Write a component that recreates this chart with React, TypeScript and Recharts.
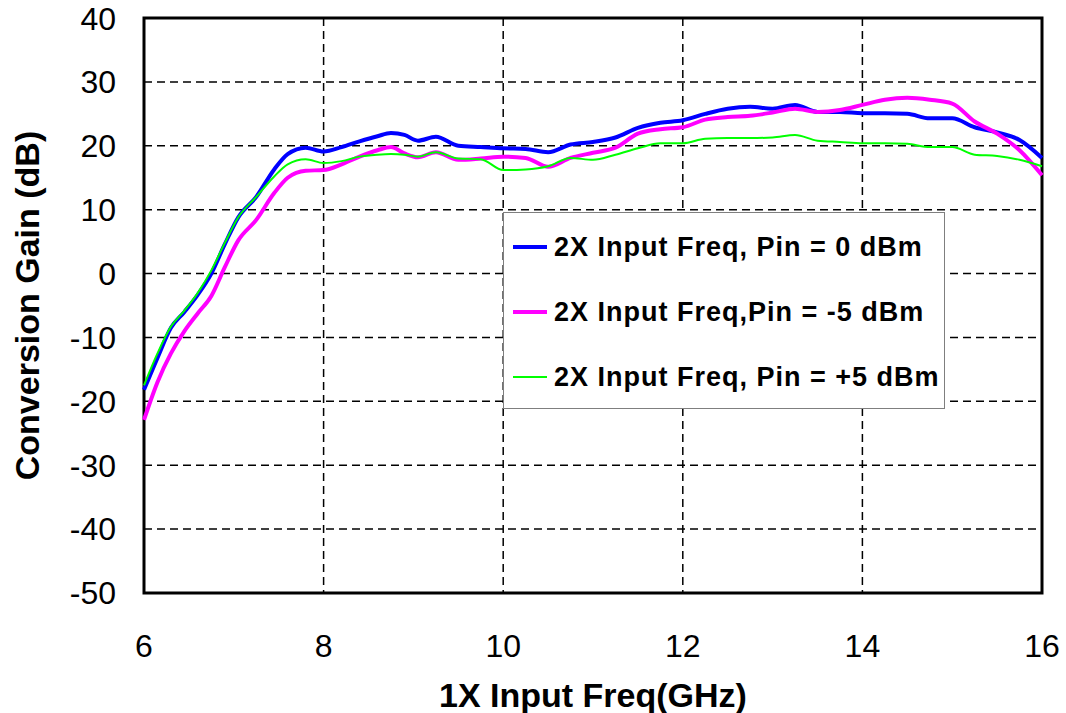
import React from 'react';
import {
  LineChart,
  Line,
  XAxis,
  YAxis,
  CartesianGrid,
  ReferenceArea,
  Legend,
} from 'recharts';

// ---------- data ----------
const FREQ = [
  6.0, 6.15, 6.3, 6.45, 6.6, 6.75, 6.9, 7.05, 7.25, 7.45, 7.6, 7.8, 8.0, 8.2, 8.4, 8.6, 8.75, 8.9,
  9.05, 9.25, 9.5, 9.75, 10.0, 10.25, 10.5, 10.75, 11.0, 11.25, 11.5, 11.75, 12.0, 12.25, 12.5,
  12.75, 13.0, 13.25, 13.5, 13.75, 14.0, 14.25, 14.5, 14.75, 15.0, 15.25, 15.5, 15.75, 16.0,
];

const GAIN_PIN_0 = [
  -18.2, -13.2, -8.5, -6.0, -3.3, 0.0, 4.6, 8.8, 12.0, 16.3, 18.7, 19.7, 19.1, 19.8, 20.7, 21.5,
  22.0, 21.7, 20.8, 21.4, 20.0, 19.8, 19.6, 19.5, 19.0, 20.2, 20.6, 21.3, 22.8, 23.6, 24.0, 25.0,
  25.8, 26.1, 25.8, 26.4, 25.3, 25.3, 25.1, 25.1, 25.0, 24.3, 24.3, 22.9, 22.1, 20.9, 18.1,
];

const GAIN_PIN_M5 = [
  -22.9, -17.0, -12.5, -9.0, -6.2, -3.5, 1.0, 5.2, 8.4, 12.6, 15.0, 16.1, 16.2, 17.1, 18.3, 19.3,
  19.8, 18.8, 18.2, 19.0, 17.8, 18.0, 18.3, 18.1, 16.7, 18.1, 18.9, 19.7, 21.9, 22.6, 22.9, 24.1,
  24.5, 24.7, 25.2, 25.8, 25.3, 25.6, 26.4, 27.2, 27.5, 27.2, 26.6, 23.8, 21.9, 19.3, 15.4,
];

const GAIN_PIN_P5 = [
  -17.5, -12.5, -8.3, -5.8, -3.0, 0.5, 4.8, 8.8, 12.0, 15.2, 17.1, 17.9, 17.3, 17.6, 18.3, 18.6,
  18.7, 18.6, 18.3, 19.0, 18.0, 17.9, 16.2, 16.3, 16.8, 18.1, 17.8, 18.6, 19.6, 20.4, 20.4, 21.1,
  21.2, 21.2, 21.3, 21.7, 20.8, 20.6, 20.4, 20.4, 20.3, 19.8, 19.8, 18.6, 18.4, 17.8, 16.8,
];

const X_TICKS = [6, 8, 10, 12, 14, 16];
const Y_TICKS = [-50, -40, -30, -20, -10, 0, 10, 20, 30, 40];

const SERIES_NAMES = [
  '2X Input Freq, Pin = 0 dBm',
  '2X Input Freq,Pin = -5 dBm',
  '2X Input Freq, Pin = +5 dBm',
];
const SERIES_KEYS = ['pin0', 'pinM5', 'pinP5'];
const SERIES_COLORS = ['#0000FF', '#FF00FF', '#00FF00'];
const SERIES_WIDTHS = [4, 4, 2];

const X_TITLE = '1X Input Freq(GHz)';
const Y_TITLE = 'Conversion Gain (dB)';

const data = FREQ.map((f, i) => ({
  freq: f,
  pin0: GAIN_PIN_0[i],
  pinM5: GAIN_PIN_M5[i],
  pinP5: GAIN_PIN_P5[i],
}));

const FONT = '"Liberation Sans", Arial, Helvetica, sans-serif';

const renderLegend = () => (
  <div
    style={{
      width: 442,
      height: 197,
      boxSizing: 'border-box',
      border: '1px solid #7f7f7f',
      background: '#fff',
      position: 'relative',
      fontFamily: FONT,
    }}
  >
    {SERIES_NAMES.map((name, i) => (
      <div
        key={name}
        style={{
          position: 'absolute',
          left: 9,
          top: 34 + i * 65 - 20,
          height: 40,
          display: 'flex',
          alignItems: 'center',
          whiteSpace: 'nowrap',
        }}
      >
        <div
          style={{
            width: 34,
            height: SERIES_WIDTHS[i],
            background: SERIES_COLORS[i],
            marginRight: 7,
          }}
        />
        <span
          style={{
            fontSize: 27,
            fontWeight: 'bold',
            color: '#000',
            letterSpacing: 1,
          }}
        >
          {name}
        </span>
      </div>
    ))}
  </div>
);

const renderYTitle = (props: any) => {
  const vb = props.viewBox || { x: 0, y: 18, width: 144, height: 575 };
  const cx = vb.x + 39;
  const cy = vb.y + vb.height / 2;
  return (
    <text
      x={cx}
      y={cy}
      transform={`rotate(-90 ${cx} ${cy})`}
      textAnchor="middle"
      fontFamily={FONT}
      fontSize={34}
      fontWeight="bold"
      fill="#000"
    >
      {Y_TITLE}
    </text>
  );
};

const renderXTitle = (props: any) => {
  const vb = props.viewBox || { x: 144, y: 593, width: 898, height: 120 };
  return (
    <text
      x={vb.x + vb.width / 2}
      y={vb.y + 114}
      textAnchor="middle"
      fontFamily={FONT}
      fontSize={34}
      fontWeight="bold"
      fill="#000"
    >
      {X_TITLE}
    </text>
  );
};

export default function App() {
  return (
    <div style={{ position: 'absolute', left: 0, top: 0, width: 1066, height: 713, background: '#fff' }}>
      <LineChart
        width={1066}
        height={713}
        data={data}
        margin={{ top: 18, right: 24, left: 0, bottom: 0 }}
      >
        <CartesianGrid stroke="#000" strokeWidth={1.5} strokeDasharray="8 5" />
        <XAxis
          dataKey="freq"
          type="number"
          domain={[6, 16]}
          ticks={X_TICKS}
          height={120}
          axisLine={false}
          tickLine={false}
          tickSize={0}
          tickMargin={41}
          tick={{ fontSize: 32, fill: '#000', fontFamily: FONT }}
          label={{ content: renderXTitle }}
        />
        <YAxis
          type="number"
          domain={[-50, 40]}
          ticks={Y_TICKS}
          width={144}
          axisLine={false}
          tickLine={false}
          tickSize={0}
          tickMargin={28}
          tick={{ fontSize: 32, fill: '#000', fontFamily: FONT }}
          label={{ content: renderYTitle }}
        />
        <ReferenceArea
          x1={6}
          x2={16}
          y1={-50}
          y2={40}
          fill="none"
          fillOpacity={0}
          stroke="#000"
          strokeWidth={3}
          ifOverflow="visible"
        />
        {SERIES_KEYS.map((k, i) => (
          <Line
            key={k}
            dataKey={k}
            name={SERIES_NAMES[i]}
            type="monotone"
            stroke={SERIES_COLORS[i]}
            strokeWidth={SERIES_WIDTHS[i]}
            dot={false}
            activeDot={false}
            isAnimationActive={false}
          />
        ))}
        <Legend
          layout="vertical"
          align="center"
          verticalAlign="middle"
          content={renderLegend}
          wrapperStyle={{ left: 503, top: 212, width: 442, height: 197 }}
        />
      </LineChart>
    </div>
  );
}
